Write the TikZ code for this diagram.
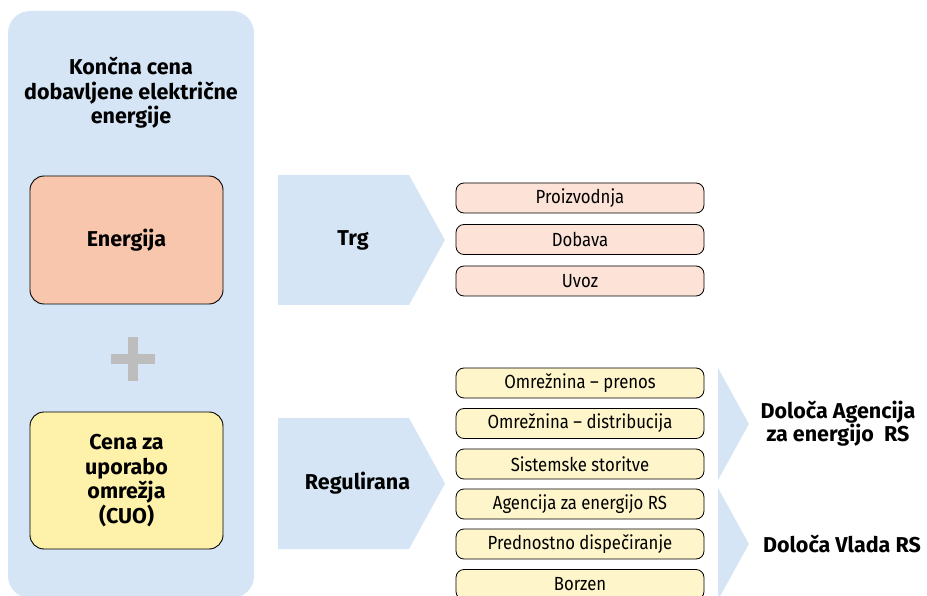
\documentclass[tikz,border=0pt]{standalone}
\usepackage{fontspec}
\setmainfont{Fira Sans}
\newfontfamily\condfont[FakeStretch=0.88]{Fira Sans}
\usetikzlibrary{positioning}
\definecolor{panelblue}{HTML}{D5E5F5}
\definecolor{energyfill}{HTML}{F8C6AC}
\definecolor{cuofill}{HTML}{FEF2AB}
\definecolor{pinkfill}{HTML}{FDE3D7}
\definecolor{yelfill}{HTML}{FEF5CB}
\definecolor{plusgray}{HTML}{BDBDBD}
\tikzset{
  x=1pt, y=-1pt,
  bigbox/.style={draw=black, line width=0.9pt, rounded corners=14pt, minimum width=193pt, align=center, font=\bfseries\fontsize{21.5}{24.5}\selectfont},
  itembox/.style={draw=black, line width=0.8pt, rounded corners=8pt, minimum width=248pt, minimum height=30pt, inner sep=0pt, font=\condfont\fontsize{19}{20}\selectfont},
  pinkitem/.style={itembox, fill=pinkfill},
  yelitem/.style={itembox, fill=yelfill},
  boldlabel/.style={align=center, font=\bfseries\fontsize{21.5}{21.5}\selectfont},
}
\begin{document}
\begin{tikzpicture}
\useasboundingbox (0,0) rectangle (927,596);
\begin{scope}
\clip (0,0) rectangle (927,596);
% main panel
\fill[panelblue, rounded corners=22pt] (8,11) rectangle (254,598);
\node[boldlabel, font=\bfseries\fontsize{21.5}{24.5}\selectfont] (title) at (131,93) {Končna cena\\dobavljene električne\\energije};
\node[bigbox, fill=energyfill, minimum height=128pt] (energy) at (126.5,240) {Energija};
\fill[plusgray] (111,354) rectangle (155,364);
\fill[plusgray] (128,337) rectangle (138,381);
\node[bigbox, fill=cuofill, minimum height=137pt] (cuo) at (126.5,480.5) {Cena za\\uporabo\\omrežja\\(CUO)};
% chevrons
\fill[panelblue] (278,175) -- (409,175) -- (445,240) -- (409,305) -- (278,305) -- cycle;
\node[boldlabel] (trg) at (353,240) {Trg};
\fill[panelblue] (278,418) -- (409,418) -- (445,483.5) -- (409,549) -- (278,549) -- cycle;
\node[boldlabel] (reg) at (357.5,483) {Regulirana};
% items
\node[pinkitem] (p1) at (580,198) {Proizvodnja};
\node[pinkitem] (p2) at (580,239.5) {Dobava};
\node[pinkitem] (p3) at (580,281) {Uvoz};
\node[yelitem] (y1) at (580,383) {Omrežnina – prenos};
\node[yelitem] (y2) at (580,423.5) {Omrežnina – distribucija};
\node[yelitem] (y3) at (580,464) {Sistemske storitve};
\node[yelitem] (y4) at (580,504) {Agencija za energijo RS};
\node[yelitem] (y5) at (580,544) {Prednostno dispečiranje};
\node[yelitem] (y6) at (580,584.5) {Borzen};
% triangles
\fill[panelblue] (718,368) -- (749,424) -- (718,480) -- cycle;
\fill[panelblue] (718,488) -- (749,544) -- (718,600) -- cycle;
\node[boldlabel] (agen) at (838,424) {Določa Agencija\\za energijo\ \ RS};
\node[boldlabel] (vlada) at (842,544) {Določa Vlada RS};
\end{scope}
\end{tikzpicture}
\end{document}
